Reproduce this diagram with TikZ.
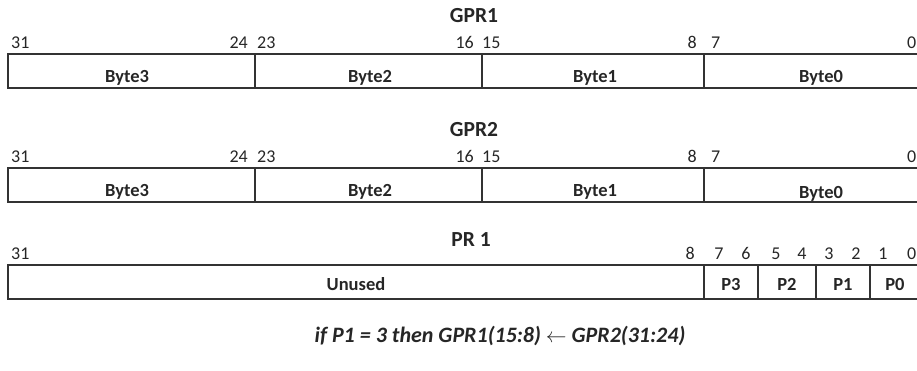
\documentclass[tikz,border=0pt]{standalone}
\usepackage{fontspec}
\setmainfont{Carlito}
\begin{document}
\begin{tikzpicture}[x=1pt,y=-1pt,
  reg/.style={draw=black!80, line width=1.3pt},
  bitnum/.style={inner sep=0pt, anchor=base, font=\fontsize{18}{18}\selectfont, text=black!85},
  fld/.style={inner sep=0pt, anchor=base, font=\fontsize{18.5}{19}\selectfont\bfseries, text=black!85},
  ttl/.style={inner sep=0pt, anchor=base, font=\fontsize{21.5}{22}\selectfont\bfseries, text=black!85}]
\useasboundingbox (0,0) rectangle (917,370);

% ---------- GPR1 ----------
\node[ttl] (t1) at (474,22) {GPR1};
\node[bitnum, anchor=base west] (a31) at (11,48) {31};
\node[bitnum, anchor=base east] (a24) at (248,48) {24};
\node[bitnum, anchor=base west] (a23) at (257,48) {23};
\node[bitnum, anchor=base east] (a16) at (474,48) {16};
\node[bitnum, anchor=base west] (a15) at (482,48) {15};
\node[bitnum, anchor=base east] (a8) at (697,48) {8};
\node[bitnum, anchor=base west] (a7) at (711,48) {7};
\node[bitnum, anchor=base east] (a0) at (916.5,48) {0};
\draw[reg] (8,54) rectangle (930,88);
\draw[reg] (255,54) -- (255,88);
\draw[reg] (482,54) -- (482,88);
\draw[reg] (704,54) -- (704,88);
\node[fld] (b13) at (127,82) {Byte3};
\node[fld] (b12) at (370,82) {Byte2};
\node[fld] (b11) at (595,82) {Byte1};
\node[fld] (b10) at (821,82) {Byte0};

% ---------- GPR2 ----------
\node[ttl] (t2) at (474,136) {GPR2};
\node[bitnum, anchor=base west] (c31) at (11,162) {31};
\node[bitnum, anchor=base east] (c24) at (248,162) {24};
\node[bitnum, anchor=base west] (c23) at (257,162) {23};
\node[bitnum, anchor=base east] (c16) at (474,162) {16};
\node[bitnum, anchor=base west] (c15) at (482,162) {15};
\node[bitnum, anchor=base east] (c8) at (697,162) {8};
\node[bitnum, anchor=base west] (c7) at (711,162) {7};
\node[bitnum, anchor=base east] (c0) at (916.5,162) {0};
\draw[reg] (8,168) rectangle (930,202);
\draw[reg] (255,168) -- (255,202);
\draw[reg] (482,168) -- (482,202);
\draw[reg] (704,168) -- (704,202);
\node[fld] (b23) at (127,196) {Byte3};
\node[fld] (b22) at (370,196) {Byte2};
\node[fld] (b21) at (595,196) {Byte1};
\node[fld] (b20) at (821,198) {Byte0};

% ---------- PR 1 ----------
\node[ttl] (t3) at (471,246) {PR 1};
\node[bitnum, anchor=base west] (p31) at (11,259) {31};
\node[bitnum, anchor=base east] (p8) at (695,259) {8};
\node[bitnum] (p7) at (719,259) {7};
\node[bitnum] (p6) at (746,259) {6};
\node[bitnum] (p5) at (776,259) {5};
\node[bitnum] (p4) at (802,259) {4};
\node[bitnum] (p3) at (829,259) {3};
\node[bitnum] (p2) at (856,259) {2};
\node[bitnum] (p1) at (883,259) {1};
\node[bitnum, anchor=base east] (p0) at (916.5,259) {0};
\draw[reg] (8,265) rectangle (930,299);
\draw[reg] (704,265) -- (704,299);
\draw[reg] (758,265) -- (758,299);
\draw[reg] (816,265) -- (816,299);
\draw[reg] (870,265) -- (870,299);
\node[fld] (un) at (356,290) {Unused};
\node[fld] (f3) at (731,290) {P3};
\node[fld] (f2) at (787,290) {P2};
\node[fld] (f1) at (843,290) {P1};
\node[fld] (f0) at (895,290) {P0};

% ---------- formula ----------
\node[inner sep=0pt, anchor=base, font=\fontsize{22}{22}\selectfont\bfseries\itshape, text=black!85] (eq) at (500,342)
  {if P1 = 3 then GPR1(15:8) {\normalfont$\leftarrow$} GPR2(31:24)};
\end{tikzpicture}
\end{document}
